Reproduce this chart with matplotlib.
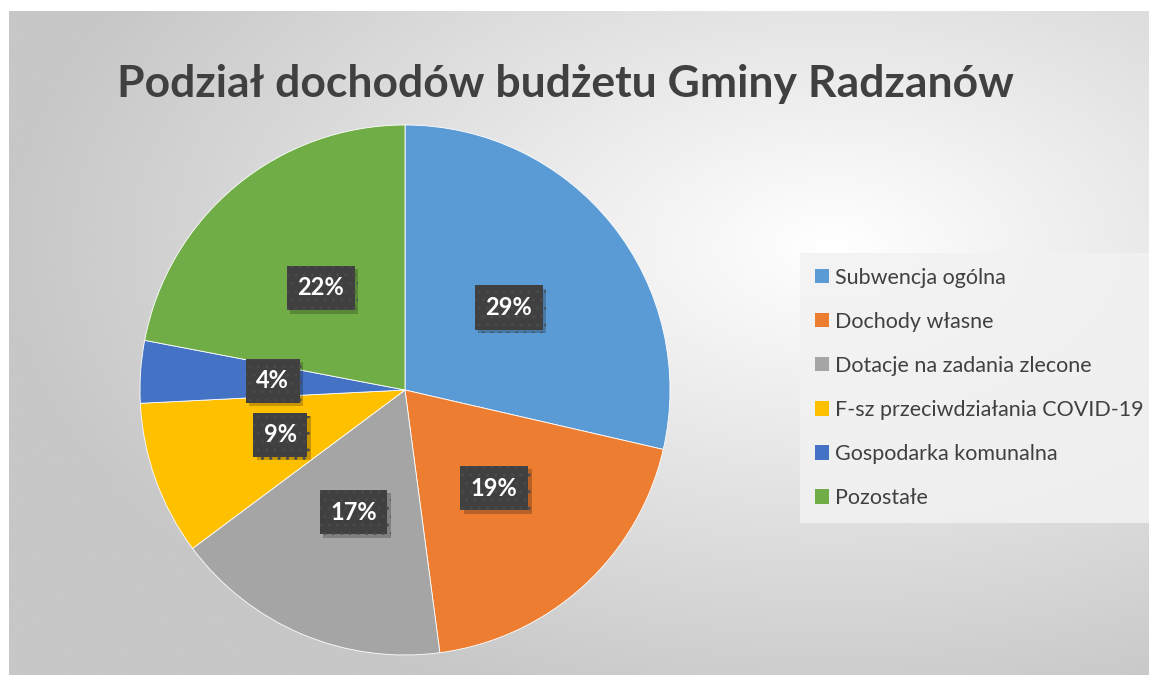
import numpy as np
import matplotlib
matplotlib.use("Agg")
import matplotlib.pyplot as plt
from matplotlib.patches import Patch
import matplotlib.patheffects as pe

# data (percent shares)
categories = [
    "Subwencja ogólna",
    "Dochody własne",
    "Dotacje na zadania zlecone",
    "F-sz przeciwdziałania COVID-19",
    "Gospodarka komunalna",
    "Pozostałe",
]
shares = [28.6, 19.3, 16.9, 9.4, 3.8, 22.0]
colors = ["#5b9bd5", "#ed7d31", "#a5a5a5", "#ffc000", "#4472c4", "#70ad47"]
title = "Podział dochodów budżetu Gminy Radzanów"

W, H = 1149, 675
plt.rcParams["font.family"] = ["Lato", "DejaVu Sans"]

fig = plt.figure(figsize=(W / 100, H / 100), dpi=100)
fig.patch.set_facecolor("white")

# background: radial grey gradient inside the chart area
bg = fig.add_axes([9 / W, -0.01, (W - 9) / W, (H - 11) / H + 0.01])
yy, xx = np.mgrid[0:300, 0:500]
cx, cy = 0.72 * 500, 0.35 * 300
d = np.sqrt(((xx - cx) / 500) ** 2 + ((yy - cy) / 300) ** 2)
d = np.clip(d / 0.72, 0, 1)
shade = 1.0 - 0.22 * d ** 1.0
bg.imshow(shade, cmap="gray", vmin=0, vmax=1, aspect="auto",
          extent=[0, 1, 0, 1], origin="upper", interpolation="bicubic")
bg.set_axis_off()

# pie
cxp, cyp, r = 405, 390, 265
ax = fig.add_axes([(cxp - r) / W, (H - cyp - r) / H, 2 * r / W, 2 * r / H])
wedges, texts, autotexts = ax.pie(
    shares, colors=colors, startangle=90, counterclock=False,
    autopct="%.0f%%", pctdistance=0.5, radius=1,
    wedgeprops=dict(edgecolor="white", linewidth=0.6),
    textprops=dict(color="white", fontsize=17, fontweight="bold"),
)
ax.set_xlim(-1, 1)
ax.set_ylim(-1, 1)
ax.set_aspect("equal")
ax.set_axis_off()

for t in autotexts:
    t.set_bbox(dict(boxstyle="square,pad=0.45", facecolor="#404040",
                    edgecolor="#4a4a4a", hatch="..", linewidth=0))
    t.get_bbox_patch().set_path_effects([
        pe.withSimplePatchShadow(offset=(2.5, -2.5), shadow_rgbFace="black", alpha=0.22)
    ])

# title
fig.text(565 / W, 1 - 97 / H, title, ha="center", va="baseline",
         fontsize=32, fontweight="bold", color="#404040")

# legend
handles = [Patch(facecolor=c, edgecolor="none") for c in colors]
leg = fig.legend(handles, categories, loc="upper left",
                 bbox_to_anchor=(800 / W, 1 - 253 / H), borderaxespad=0,
                 fontsize=15.5, labelcolor="#404040", frameon=True,
                 fancybox=False, handlelength=0.65, handleheight=0.65,
                 handletextpad=0.3, labelspacing=1.12, borderpad=0.68)
frame = leg.get_frame()
frame.set_facecolor("#f2f2f2")
frame.set_alpha(0.85)
frame.set_edgecolor("none")

fig.savefig("out.png", dpi=100)
